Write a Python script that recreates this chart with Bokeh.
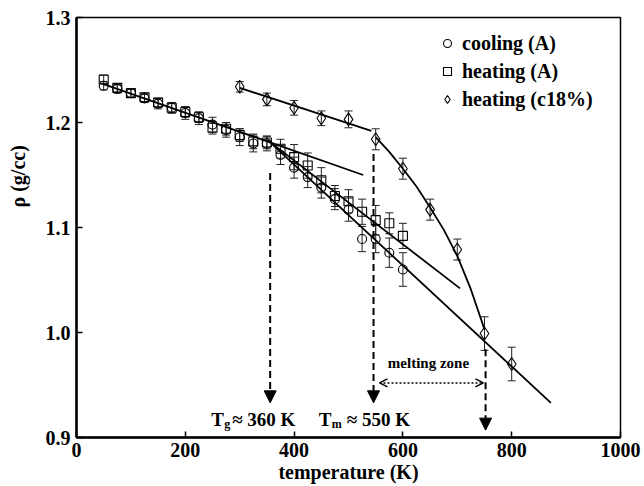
import math
from bokeh.plotting import figure
from bokeh.models import (ColumnDataSource, Whisker, TeeHead, Range1d, FixedTicker,
                          PrintfTickFormatter, Legend, LegendItem, Label, Arrow,
                          NormalHead, OpenHead, Title)
from bokeh.embed import file_html
from bokeh.resources import INLINE

# ---------------- data ----------------
temps_A = [50, 75, 100, 125, 150, 175, 200, 225, 250, 275, 300, 325, 350,
           375, 400, 425, 450, 475, 500, 525, 550, 575, 600]
rho_cooling_A = [1.235, 1.232, 1.228, 1.223, 1.218, 1.214, 1.209, 1.204, 1.198,
                 1.193, 1.186, 1.180, 1.180, 1.169, 1.157, 1.148, 1.138, 1.127,
                 1.117, 1.089, 1.089, 1.076, 1.060]
err_cooling_A = [0.004, 0.004, 0.004, 0.004, 0.005, 0.005, 0.006, 0.006, 0.007,
                 0.007, 0.008, 0.008, 0.007, 0.009, 0.010, 0.010, 0.010, 0.010,
                 0.011, 0.012, 0.013, 0.014, 0.016]
rho_heating_A = [1.241, 1.233, 1.228, 1.224, 1.219, 1.214, 1.210, 1.205, 1.195,
                 1.194, 1.188, 1.182, 1.181, 1.175, 1.167, 1.159, 1.145, 1.130,
                 1.125, 1.115, 1.107, 1.104, 1.092]
err_heating_A = [0.004, 0.004, 0.004, 0.004, 0.004, 0.005, 0.005, 0.005, 0.006,
                 0.006, 0.006, 0.007, 0.006, 0.009, 0.012, 0.012, 0.012, 0.010,
                 0.011, 0.012, 0.014, 0.010, 0.012]
temps_c18 = [300, 350, 400, 450, 500, 550, 600, 650, 700, 750, 800]
rho_heating_c18 = [1.234, 1.222, 1.214, 1.204, 1.203, 1.184, 1.156, 1.117,
                   1.079, 0.999, 0.970]
err_heating_c18 = [0.005, 0.006, 0.007, 0.007, 0.008, 0.010, 0.010, 0.010,
                   0.010, 0.016, 0.016]

# fitted lines
fit_glass_T = [47, 527]
fit_glass_rho = [1.237, 1.150]
fit_cool_T = [352, 872]
fit_cool_rho = [1.183, 0.933]
fit_heat_T = [352, 705]
fit_heat_rho = [1.183, 1.042]
fit_c18_low_T = [300, 542]
fit_c18_low_rho = [1.233, 1.192]
fit_c18_high_T = [550, 575, 600, 625, 650, 675, 700, 725, 750]
fit_c18_high_rho = [1.186, 1.172, 1.156, 1.139, 1.119, 1.098, 1.073, 1.041, 1.003]

# marked temperatures
T_g = 356
T_m = 546
T_end = 752
melt_zone_T = [557, 748]

x_ticks = [0, 200, 400, 600, 800, 1000]
y_ticks = [0.9, 1.0, 1.1, 1.2, 1.3]

FONT = "Liberation Serif"

p = figure(width=644, height=486, title=None,
           x_range=Range1d(0, 1000), y_range=Range1d(0.9, 1.3),
           output_backend="svg", toolbar_location=None,
           min_border_left=76, min_border_right=24,
           min_border_top=17, min_border_bottom=49)
p.background_fill_color = "white"
p.border_fill_color = "white"
p.outline_line_color = "black"
p.outline_line_width = 1.5
p.xgrid.visible = False
p.ygrid.visible = False

for ax in (p.xaxis[0], p.yaxis[0]):
    ax.axis_line_width = 2.5
    ax.axis_line_color = "black"
    ax.major_tick_in = 6
    ax.major_tick_out = 0
    ax.major_tick_line_width = 1.5
    ax.minor_tick_line_color = None
    ax.major_label_text_font = FONT
    ax.major_label_text_font_style = "bold"
    ax.major_label_text_font_size = "20px"
    ax.major_label_text_color = "black"
p.xaxis.ticker = FixedTicker(ticks=x_ticks)
p.yaxis.ticker = FixedTicker(ticks=y_ticks)
p.yaxis.formatter = PrintfTickFormatter(format="%.1f")
p.xaxis.major_label_standoff = 5
p.yaxis.major_label_standoff = 6

p.xaxis.axis_label = "temperature (K)"
p.xaxis.axis_label_standoff = 1
p.xaxis.axis_label_text_font = FONT
p.xaxis.axis_label_text_font_style = "bold"
p.xaxis.axis_label_text_font_size = "20px"
p.xaxis.axis_label_text_color = "black"

# small spacer between the y tick labels and the y title
p.yaxis.axis_label = " "
p.yaxis.axis_label_text_font_size = "4px"
p.yaxis.axis_label_standoff = 6

p.add_layout(Title(text="\u03c1 (g/cc)", align="left", offset=230, standoff=0,
                   text_font=FONT, text_font_style="bold",
                   text_font_size="20px", text_color="black"), "left")

# error bars
def add_err(T, r, e):
    src = ColumnDataSource(dict(T=T, lo=[a - b for a, b in zip(r, e)],
                                up=[a + b for a, b in zip(r, e)]))
    w = Whisker(source=src, base="T", lower="lo", upper="up",
                line_color="#222222", line_width=1,
                lower_head=TeeHead(size=8, line_color="#222222", line_width=1),
                upper_head=TeeHead(size=8, line_color="#222222", line_width=1))
    p.add_layout(w)

add_err(temps_A, rho_cooling_A, err_cooling_A)
add_err(temps_A, rho_heating_A, err_heating_A)
add_err(temps_c18, rho_heating_c18, err_heating_c18)

# fit lines
for xs, ys in [(fit_glass_T, fit_glass_rho), (fit_cool_T, fit_cool_rho),
               (fit_heat_T, fit_heat_rho), (fit_c18_low_T, fit_c18_low_rho),
               (fit_c18_high_T, fit_c18_high_rho)]:
    p.line(xs, ys, line_color="black", line_width=1.8)

r_cool = p.scatter(temps_A, rho_cooling_A, marker="circle", size=9,
                   fill_color=None, line_color="black", line_width=1.1)
r_heat = p.scatter(temps_A, rho_heating_A, marker="square", size=9,
                   fill_color=None, line_color="black", line_width=1.1)
r_c18 = p.scatter(temps_c18, rho_heating_c18, marker="diamond", size=13,
                  fill_color=None, line_color="black", line_width=1.1)

legend = Legend(items=[LegendItem(label="cooling (A)", renderers=[r_cool]),
                       LegendItem(label="heating (A)", renderers=[r_heat]),
                       LegendItem(label="heating (c18%)", renderers=[r_c18])],
                location=(361, 324), padding=0, margin=0, spacing=0,
                glyph_width=20, glyph_height=28, label_height=28,
                label_standoff=5, border_line_color=None,
                background_fill_alpha=0,
                label_text_font=FONT, label_text_font_style="bold",
                label_text_font_size="20px", label_text_color="black")
p.add_layout(legend)

# dashed arrows
for xt, y0, y1 in [(T_g, 1.152, 0.933), (T_m, 1.170, 0.933), (T_end, 0.984, 0.907)]:
    p.add_layout(Arrow(end=NormalHead(size=12, fill_color="black", line_color="black"),
                       x_start=xt, y_start=y0, x_end=xt, y_end=y1,
                       line_color="black", line_width=2, line_dash="7 4"))

p.add_layout(Arrow(start=OpenHead(size=8, line_width=1.5, line_color="black"),
                   end=OpenHead(size=8, line_width=1.5, line_color="black"),
                   x_start=melt_zone_T[0], y_start=0.952,
                   x_end=melt_zone_T[1], y_end=0.952,
                   line_color="black", line_width=1.5, line_dash="2 2"))

def lab(x, y, text, size, align="left", baseline="alphabetic", xoff=0,
        style="bold", angle=0):
    p.add_layout(Label(x=x, y=y, text=text, x_offset=xoff,
                       text_font=FONT, text_font_style=style,
                       text_font_size=size, text_align=align,
                       text_baseline=baseline, text_color="black",
                       angle=angle))

lab(647, 0.9707, "melting zone", "15px", align="center", baseline="middle")

# T_g label
lab(247.6, 0.9171, "T", "19px")
lab(247.6, 0.9133, "g", "12px", xoff=13)
lab(247.6, 0.9171, "\u2248 360 K", "19px", xoff=21)
# T_m label
lab(445.4, 0.9171, "T", "19px")
lab(445.4, 0.9133, "m", "12px", xoff=13)
lab(445.4, 0.9171, "\u2248 550 K", "19px", xoff=28)

open("out.html", "w").write(file_html(p, INLINE))
